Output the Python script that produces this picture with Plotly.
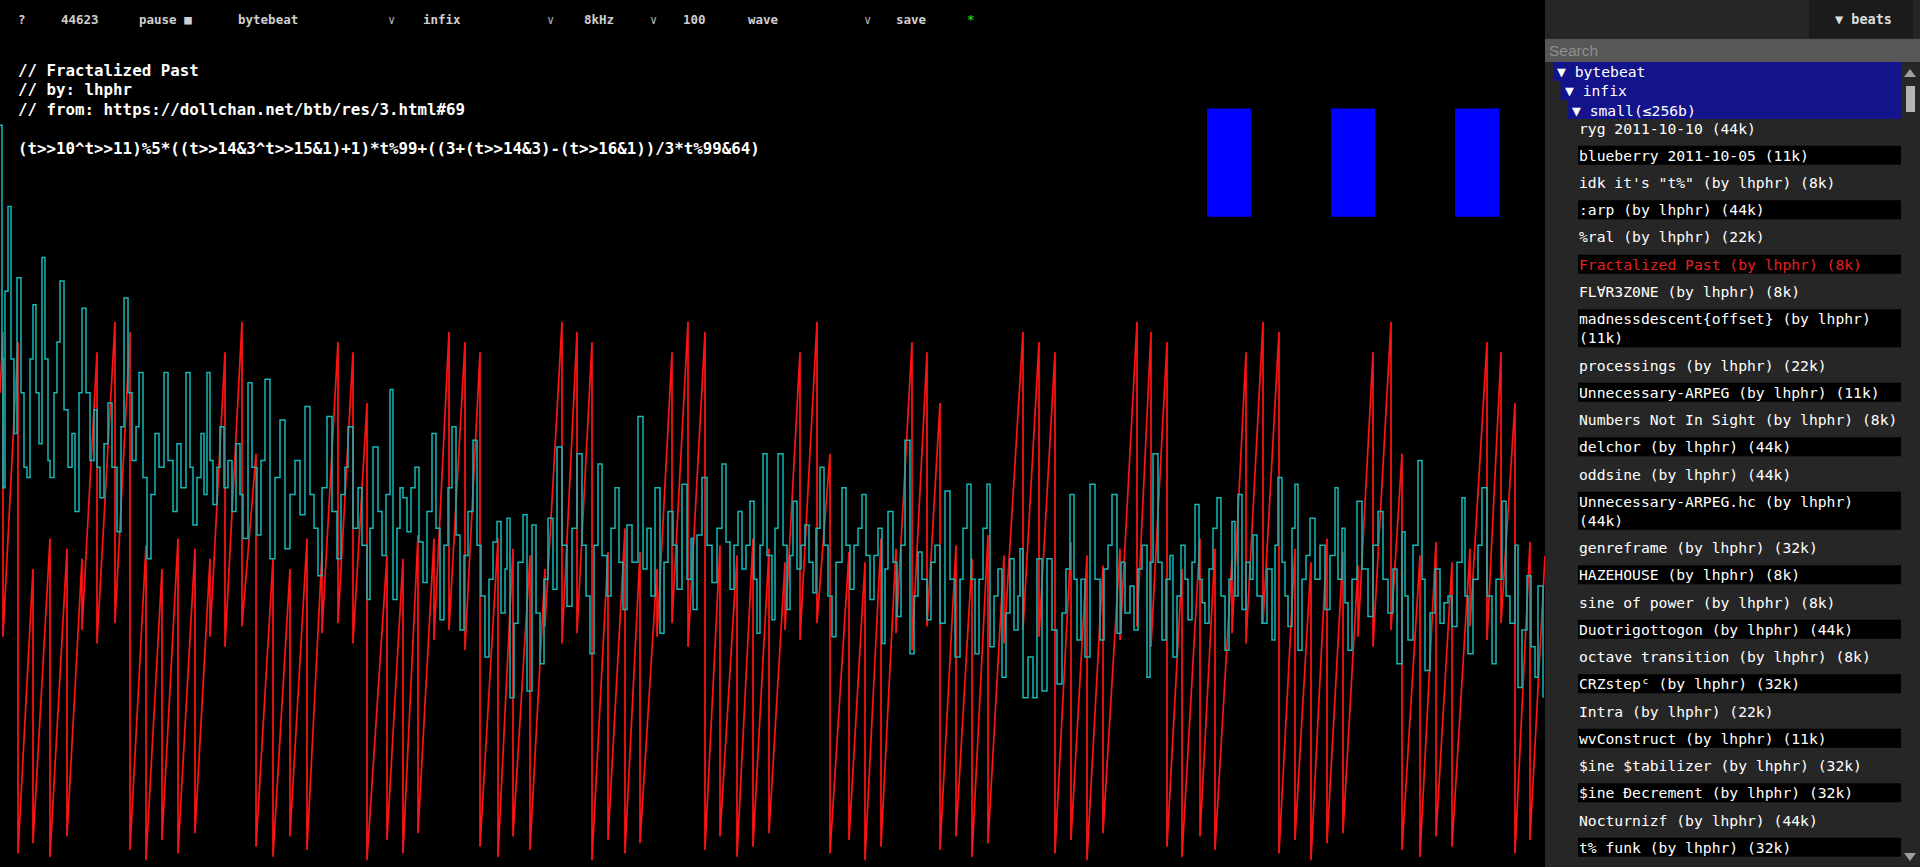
import plotly.graph_objects as go

W, H = 1920, 867
WAVE_W = 1545          # waveform canvas ends where the sidebar starts
MONO = "DejaVu Sans Mono"

# ---------------- waveform data (sample values 0..256) ----------------
# red channel, one entry per sawtooth tooth: x where it wraps, peak, value it rose from
red_x = [3, 18, 33, 50, 67, 82, 97, 115, 130, 146, 162, 178, 195, 210, 225, 242, 256,
         273, 290, 307, 322, 338, 353, 367, 387, 403, 418, 434, 449, 465, 480, 498, 513,
         530, 545, 562, 577, 592, 608, 625, 640, 657, 672, 688, 705, 720, 737, 753, 769,
         785, 800, 817, 830, 849, 865, 881, 896, 912, 927, 940, 956, 972, 988, 1004, 1023,
         1039, 1055, 1071, 1087, 1103, 1120, 1137, 1151, 1167, 1182, 1200, 1215, 1232,
         1246, 1263, 1279, 1295, 1311, 1327, 1343, 1358, 1373, 1391, 1402, 1420, 1436,
         1452, 1470, 1487, 1501, 1515, 1530, 1545]
red_top = [158, 155, 88, 97, 94, 91, 152, 161, 158, 95, 88, 97, 94, 91, 152, 161, 122,
           91, 88, 97, 93, 155, 152, 137, 92, 91, 98, 97, 158, 155, 152, 97, 94,
           92, 88, 161, 158, 155, 93, 100, 93, 88, 152, 161, 158, 95, 92, 97, 94,
           90, 152, 161, 122, 93, 90, 97, 94, 155, 152, 137, 95, 91, 98, 92, 158,
           155, 152, 96, 92, 89, 94, 161, 158, 155, 88, 97, 94, 91,
           152, 161, 158, 94, 90, 97, 93, 89, 152, 161, 122, 92, 96,
           90, 94, 155, 152, 137, 96, 92]
red_low = [140, 68, 4, 7, 3, 9, 70, 66, 72, 5, 2, 8, 4, 10, 68, 65, 71,
           6, 3, 9, 5, 69, 72, 66, 2, 8, 4, 10, 67, 70, 64, 6, 3,
           9, 5, 71, 66, 69, 2, 8, 4, 7, 68, 72, 65, 5, 9, 3, 6,
           10, 70, 67, 72, 4, 8, 2, 6, 69, 64, 71, 5, 9, 3, 7, 66,
           70, 68, 4, 8, 2, 10, 67, 71, 65, 6, 3, 9, 5,
           69, 66, 72, 4, 8, 2, 7, 10, 68, 65, 70, 5, 3,
           9, 6, 71, 67, 72, 4, 8]

# cyan channel, read stroke by stroke
cyan_x = [0, 2, 3, 5, 8, 11, 14, 17, 21, 24, 27, 30, 33, 36, 39, 42, 45, 48, 50, 54,
          57, 60, 64, 68, 72, 75, 79, 82, 86, 90, 94, 97, 100, 104, 108, 112, 117, 121,
          124, 128, 132, 136, 139, 143, 147, 151, 155, 159, 164, 168, 173, 177, 181, 186,
          190, 193, 197, 201, 204, 207, 210, 213, 217, 220, 224, 228, 232, 236, 240, 243,
          248, 252, 257,
          261, 265, 270, 275, 280, 285, 290, 295, 300, 305, 310, 314, 318, 322, 327, 332,
          337, 341, 345, 348, 353, 358, 362, 367, 370, 373, 378, 382, 386, 390, 393, 397,
          400, 403, 407, 411, 415, 419, 423, 427, 432, 436, 440, 444, 448, 452, 456, 460,
          464, 468, 473, 477, 481, 485, 489, 493, 497, 501, 505, 507, 510, 514, 518, 523,
          527, 532, 536, 540, 544, 548, 553, 557, 562, 567, 572, 577, 582, 586, 590, 594,
          598, 602, 607, 611, 615, 619, 623, 627, 632, 638, 643, 647, 651, 655, 660, 664,
          668, 673, 677, 682, 687,
          691, 693, 697, 702, 707, 712, 717, 722, 726, 730, 734, 738, 742, 746, 750, 754,
          757, 760, 763, 767, 772, 775, 778, 783, 787, 790, 793, 797, 801, 805, 809, 813,
          816, 820, 824, 828, 832, 836, 842, 846, 850, 854, 858, 862, 866, 870, 874, 878,
          882, 885, 888, 893, 897, 901, 905, 910, 914, 918, 922, 927, 931, 935, 940, 945,
          950, 955, 960, 963, 967, 971, 975, 979, 983, 987, 990, 994, 998, 1002, 1006,
          1010, 1014, 1018, 1020, 1023, 1028, 1033, 1037, 1042, 1047, 1052, 1057, 1062,
          1066, 1070, 1074, 1077, 1081, 1085, 1090, 1095, 1100, 1104, 1108, 1112, 1117,
          1121, 1125, 1130, 1134, 1138, 1142, 1147, 1150, 1153, 1158, 1162, 1166, 1170,
          1173, 1177, 1181, 1185, 1188, 1192, 1195, 1199, 1202, 1205, 1209, 1213, 1217,
          1221, 1225, 1229, 1232, 1235, 1238, 1242, 1246, 1250, 1253, 1257, 1262, 1267,
          1272, 1275, 1278, 1282, 1285, 1288, 1292, 1295, 1298, 1302, 1306, 1310, 1315,
          1320, 1325, 1330, 1335, 1338, 1342, 1345, 1348, 1352, 1357, 1362, 1368, 1373,
          1378, 1383, 1388, 1393, 1397, 1402, 1405, 1408, 1413, 1418, 1422, 1425, 1430,
          1435, 1440, 1444, 1448, 1452, 1457, 1462, 1465, 1468, 1473, 1478, 1482, 1487,
          1492, 1496, 1502, 1506, 1510, 1515, 1518, 1522, 1527, 1531, 1535, 1538, 1543]
cyan_v = [219, 150, 112, 170, 195, 150, 128, 174, 140, 118, 115, 150, 166, 140, 125, 180,
          150, 120, 115, 140, 155, 173, 135, 118, 128, 105, 140, 165, 140, 120, 135, 118,
          109, 125, 137, 118, 99, 130, 168, 140, 120, 130, 146, 115, 91, 110, 128, 118,
          146, 120, 105, 125, 112, 146, 118, 101, 115, 128, 110, 146, 120, 107, 118, 130,
          112, 120, 105, 125, 110, 97, 143, 118, 98,
          120, 144, 91, 115, 132, 94, 110, 120, 104, 136, 110, 100, 86, 112, 133, 105,
          91, 110, 118, 130, 100, 112, 95, 79, 100, 124, 105, 92, 110, 141, 79, 100,
          112, 109, 99, 112, 118, 96, 84, 105, 128, 100, 73, 95, 112, 130, 98, 70,
          92, 105, 126, 95, 80, 62, 85, 96, 102, 75, 88, 103, 50, 72, 90, 104,
          52, 101, 75, 60, 85, 103, 82, 124, 95, 77, 100, 122, 95, 80, 63, 95,
          119, 92, 80, 100, 112, 90, 76, 101, 90, 133, 88, 100, 80, 112, 69, 90,
          105, 95, 82, 113, 85,
          97, 76, 98, 115, 95, 84, 100, 119, 96, 82, 95, 105, 88, 95, 108, 85,
          69, 95, 122, 92, 73, 100, 122, 95, 76, 92, 108, 88, 95, 101, 90, 81,
          100, 118, 95, 80, 68, 90, 112, 95, 82, 95, 100, 110, 92, 79, 92, 100,
          66, 88, 105, 90, 74, 95, 126, 63, 80, 93, 85, 73, 90, 95, 72, 111,
          85, 62, 85, 100, 113, 85, 63, 85, 100, 113, 65, 80, 88, 56, 75,
          91, 70, 80, 94, 50, 62, 50, 91, 52, 91, 70, 54, 75,
          88, 110, 85, 67, 85, 62, 113, 85, 67, 88, 95, 110, 69,
          90, 75, 83, 70, 88, 95, 56, 90, 122, 90, 67, 85, 92,
          62, 80, 95, 85, 73, 90, 107, 85, 78, 72, 88, 100, 109,
          80, 64, 85, 102, 80, 110, 76, 90, 85, 98, 80, 72, 88,
          67, 95, 115, 90, 80, 71, 100, 113, 64, 85, 92, 103, 85,
          95, 76, 92, 112, 85, 100, 78, 64, 85, 108, 88, 74, 95,
          105, 85, 75, 88, 60, 99, 80, 67, 95, 120, 85, 58, 75,
          88, 72, 78, 80, 71, 90, 109, 80, 63, 85, 95, 112, 80,
          60, 85, 108, 80, 72, 95, 53, 70, 86, 65, 56, 83, 50]

# the three blue level meters
meter_x = [1229, 1353, 1477]
meter_lo = [192, 192, 192]
meter_hi = [224, 224, 224]

# ---------------- UI text ----------------
toolbar_labels = ["?", "44623", "pause ■", "bytebeat", "∨", "infix", "∨", "8kHz", "∨",
                  "100", "wave", "∨", "save", "*"]
toolbar_x = [16, 59, 137, 236, 386, 421, 545, 582, 648, 681, 746, 862, 894, 965]

code_lines = ["// Fractalized Past",
              "// by: lhphr",
              "// from: https://dollchan.net/btb/res/3.html#69",
              "",
              "(t>>10^t>>11)%5*((t>>14&3^t>>15&1)+1)*t%99+((3+(t>>14&3)-(t>>16&1))/3*t%99&64)"]

tree_headers = ["▼ bytebeat", "▼ infix", "▼ small(≤256b)"]

items = [["ryg 2011-10-10 (44k)"],
         ["blueberry 2011-10-05 (11k)"],
         ["idk it's \"t%\" (by lhphr) (8k)"],
         [":arp (by lhphr) (44k)"],
         ["%ral (by lhphr) (22k)"],
         ["Fractalized Past (by lhphr) (8k)"],
         ["FL∀R3Z0NE (by lhphr) (8k)"],
         ["madnessdescent{offset} (by lhphr)", "(11k)"],
         ["processings (by lhphr) (22k)"],
         ["Unnecessary-ARPEG (by lhphr) (11k)"],
         ["Numbers Not In Sight (by lhphr) (8k)"],
         ["delchor (by lhphr) (44k)"],
         ["oddsine (by lhphr) (44k)"],
         ["Unnecessary-ARPEG.hc (by lhphr)", "(44k)"],
         ["genreframe (by lhphr) (32k)"],
         ["HAZEHOUSE (by lhphr) (8k)"],
         ["sine of power (by lhphr) (8k)"],
         ["Duotrigottogon (by lhphr) (44k)"],
         ["octave transition (by lhphr) (8k)"],
         ["CRZstepᶜ (by lhphr) (32k)"],
         ["Intra (by lhphr) (22k)"],
         ["wvConstruct (by lhphr) (11k)"],
         ["$ine $tabilizer (by lhphr) (32k)"],
         ["$ine Đecrement (by lhphr) (32k)"],
         ["Nocturnizf (by lhphr) (44k)"],
         ["t% funk (by lhphr) (32k)"]]
current_item = 5


def px(x):
    return x / W


def py(y):
    return 1 - y / H


def esc(s):
    return s.replace("&", "&amp;").replace(">", "&gt;").replace("$", "&#36;")


# red polyline: drop at each wrap, then climb to the next peak
rx, ry = [0, red_x[0]], [red_low[0], red_top[0]]
for i in range(1, len(red_x)):
    rx += [red_x[i - 1], red_x[i]]
    ry += [red_low[i], red_top[i]]

fig = go.Figure()
fig.add_trace(go.Scatter(x=rx, y=ry, mode="lines", line=dict(color="#ff1414", width=1.7),
                         hoverinfo="skip"))
fig.add_trace(go.Scatter(x=cyan_x, y=cyan_v, mode="lines",
                         line=dict(color="#16b6b6", width=1.5, shape="hv"),
                         hoverinfo="skip"))
fig.add_trace(go.Bar(x=meter_x, y=[h - l for h, l in zip(meter_hi, meter_lo)], base=meter_lo,
                     width=44, marker=dict(color="#0000ff", line=dict(width=0)),
                     hoverinfo="skip"))

shapes = []
ann = []


def rect(x0, y0, x1, y1, color, layer="below"):
    shapes.append(dict(type="rect", xref="paper", yref="paper", x0=px(x0), x1=px(x1),
                       y0=py(y1), y1=py(y0), fillcolor=color, line=dict(width=0),
                       layer=layer))


def text(x, y, s, size, color="#ffffff", bold=False, family=MONO):
    if bold:
        s = "<b>" + s + "</b>"
    ann.append(dict(x=px(x), y=py(y), xref="paper", yref="paper", text=s,
                    showarrow=False, xanchor="left", yanchor="middle", align="left",
                    font=dict(family=family, size=size, color=color)))


# toolbar
for lab, x in zip(toolbar_labels, toolbar_x):
    if lab == "∨":
        text(x, 20, lab, 12, "#b0b0b0")
    else:
        col = "#22cc22" if lab == "*" else "#cfcfcf"
        text(x, 20, lab, 12.5, col, bold=True)

# code
for i, line in enumerate(code_lines):
    if line:
        text(16, 70 + 19.7 * i, esc(line), 15.8, "#ffffff", bold=True)

# sidebar
rect(WAVE_W, 0, W, H, "#262626")
rect(1809, 0, 1913, 38, "#1b1b1b")
text(1833, 19, "▼ beats", 13.5, "#dddddd", bold=True)
rect(WAVE_W, 39, W, 62, "#575757")
text(1547, 50.5, "Search", 15.5, "#8f8f8f", family="Liberation Sans")

for i, h in enumerate(tree_headers):
    x0 = 1553 + 7.5 * i
    rect(x0, 62 + 19 * i, 1901, 81 + 19 * i, "#13138c")
    text(x0 + 2, 72 + 19 * i, h, 14.7, "#ffffff")

y = 128
for i, lines in enumerate(items):
    n = len(lines)
    mid = y + 19 * (n - 1) / 2
    if i % 2 == 1:
        rect(1578, y - 9.5, 1901, y - 9.5 + 19 * n, "#000000")
    col = "#e62222" if i == current_item else "#ffffff"
    text(1577, mid, "<br>".join(esc(s) for s in lines), 14.7, col)
    y += 27.25 + 19 * (n - 1)

# scrollbar
shapes.append(dict(type="path", xref="paper", yref="paper",
                   path=f"M {px(1904)} {py(77)} L {px(1916)} {py(77)} L {px(1910)} {py(69)} Z",
                   fillcolor="#a0a0a0", line=dict(width=0)))
shapes.append(dict(type="rect", xref="paper", yref="paper", x0=px(1906), x1=px(1915),
                   y0=py(112), y1=py(86), fillcolor="#b4b4b4", line=dict(width=0)))
shapes.append(dict(type="path", xref="paper", yref="paper",
                   path=f"M {px(1904)} {py(853)} L {px(1916)} {py(853)} L {px(1910)} {py(861)} Z",
                   fillcolor="#a0a0a0", line=dict(width=0)))

fig.update_layout(
    width=W, height=H, margin=dict(l=0, r=0, t=0, b=0),
    paper_bgcolor="#000000", plot_bgcolor="#000000",
    showlegend=False, shapes=shapes, annotations=ann,
    xaxis=dict(range=[0, WAVE_W], domain=[0, px(WAVE_W)], visible=False, fixedrange=True),
    yaxis=dict(range=[0, 256], domain=[0, 1], visible=False, fixedrange=True),
)

fig.write_html("out.html", config={"displayModeBar": False},
               post_script="document.body.style.margin='0';document.body.style.overflow='hidden';")
